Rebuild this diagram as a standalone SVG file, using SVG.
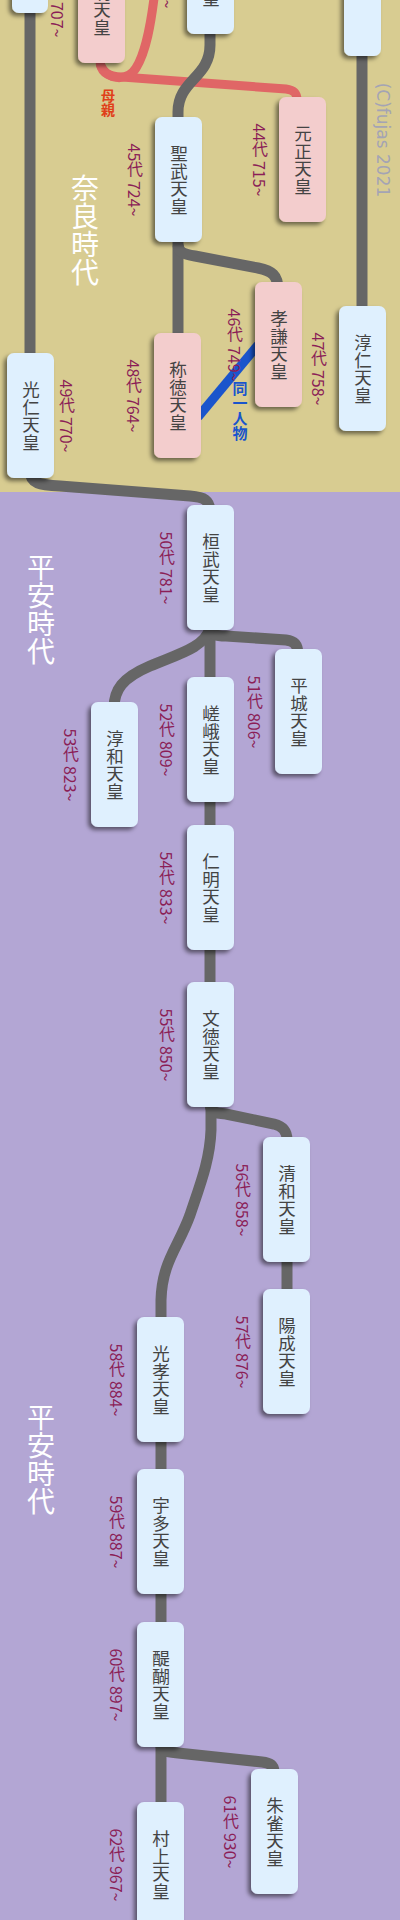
<svg xmlns="http://www.w3.org/2000/svg" width="400" height="1920" viewBox="0 0 400 1920">
<defs>
<filter id="sh" x="-30%" y="-10%" width="160%" height="120%">
<feDropShadow dx="-3" dy="3" stdDeviation="2" flood-color="#000" flood-opacity="0.5"/>
</filter>
</defs>
<style>
.n rect{filter:url(#sh)}
.b{fill:#dff0fe}
.p{fill:#f3cdcd}
.t{font-family:"Noto Sans CJK JP",sans-serif;font-size:17.5px;fill:#444;writing-mode:vertical-rl;text-anchor:middle}
.l{font-family:"Noto Sans CJK JP",sans-serif;font-size:16px;fill:#8b1e57;writing-mode:vertical-rl;text-anchor:middle}
.era{font-family:"Noto Sans CJK JP",sans-serif;font-size:28px;fill:#fff;writing-mode:vertical-rl;text-anchor:middle}
.c path{fill:none;stroke:#666;stroke-width:11}
.r path{fill:none;stroke:#e06666;stroke-width:9}
</style>
<rect x="0" y="0" width="400" height="492" fill="#d8cc91"/>
<rect x="0" y="492" width="400" height="1428" fill="#b3a6d4"/>
<text class="era" x="85" y="230">奈良時代</text>
<text class="era" x="41" y="609">平安時代</text>
<text class="era" x="41" y="1459">平安時代</text>
<text transform="translate(383,140) rotate(90)" font-family="DejaVu Sans,sans-serif" font-size="17" fill="#a4a4b4" text-anchor="middle" dominant-baseline="central">(C)fujas 2021</text>
<g id="mother" class="r">
<path d="M100,60 C100,72 108,77 122,77 L286,89 C294,90 297,93 297,100"/>
<path d="M155,-10 C151,25 146,52 136,68 C128,81 108,82 100,64"/>
</g>
<g id="connectors" class="c">
<path d="M30,-10 L30,360"/>
<path d="M30,470 C30,484 40,485 60,486 L190,496 C204,497 210,500 210,512"/>
<path d="M210,20 L210,45 C210,78 178,80 178,112 L178,125"/>
<path d="M178,240 L178,340"/>
<path d="M178,245 C179,253 184,254 195,256 L258,268 C272,271 278,275 278,290"/>
<path d="M362,50 L362,310"/>
<path d="M210,625 L210,680"/>
<path d="M210,628 C211,635 216,636 226,636 L286,640 C294,641 298,644 298,655"/>
<path d="M210,628 C205,648 175,655 150,666 C122,678 114,690 114,708"/>
<path d="M210,800 L210,830"/>
<path d="M210,948 L210,985"/>
<path d="M210,1104 C211,1112 214,1113 226,1114 L274,1124 C282,1126 287,1130 287,1140"/>
<path d="M211,1104 L211,1130 C210,1160 200,1185 190,1215 C178,1248 162,1262 161,1300 L161,1320"/>
<path d="M287,1260 L287,1292"/>
<path d="M161,1440 L161,1472"/>
<path d="M161,1592 L161,1625"/>
<path d="M161,1744 L161,1805"/>
<path d="M161,1746 C162,1752 167,1752 178,1753 L262,1762 C270,1763 274,1765 274,1772"/>
</g>
<line id="same" x1="258" y1="345" x2="198" y2="417" stroke="#1a55cc" stroke-width="9"/>
<text font-family="Noto Sans CJK JP,sans-serif" font-size="15" font-weight="bold" fill="#1a55cc" style="writing-mode:vertical-rl" text-anchor="middle" x="240" y="411">同一人物</text>
<text font-family="Noto Sans CJK JP,sans-serif" font-size="14" font-weight="bold" fill="#e0401a" style="writing-mode:vertical-rl" text-anchor="middle" x="108" y="103">母親</text>
<g id="n-tl" class="n"><rect class="b" x="12" y="-100" width="36" height="113" rx="7"/></g>
<g id="n-tr" class="n"><rect class="b" x="344" y="-100" width="37" height="156" rx="7"/></g>
<g id="n42" class="n"><rect class="b" x="187" y="-91" width="47" height="125" rx="7"/><text class="t" x="211" y="-28">文武天皇</text><text class="l" x="168" y="-28">42代 697~</text></g>
<g id="n43" class="n"><rect class="p" x="78" y="-62" width="47" height="125" rx="7"/><text class="t" x="102" y="1">元明天皇</text><text class="l" x="58" y="1">43代 707~</text></g>
<g id="n44" class="n"><rect class="p" x="279" y="97" width="47" height="125" rx="7"/><text class="t" x="303" y="160">元正天皇</text><text class="l" x="260" y="160">44代 715~</text></g>
<g id="n45" class="n"><rect class="b" x="155" y="117" width="47" height="125" rx="7"/><text class="t" x="179" y="180">聖武天皇</text><text class="l" x="135" y="180">45代 724~</text></g>
<g id="n46" class="n"><rect class="p" x="255" y="282" width="47" height="125" rx="7"/><text class="t" x="279" y="345">孝謙天皇</text><text class="l" x="235" y="345">46代 749~</text></g>
<g id="n47" class="n"><rect class="b" x="339" y="306" width="47" height="125" rx="7"/><text class="t" x="363" y="369">淳仁天皇</text><text class="l" x="319" y="369">47代 758~</text></g>
<g id="n48" class="n"><rect class="p" x="154" y="333" width="47" height="125" rx="7"/><text class="t" x="178" y="396">称徳天皇</text><text class="l" x="134" y="396">48代 764~</text></g>
<g id="n49" class="n"><rect class="b" x="7" y="353" width="47" height="125" rx="7"/><text class="t" x="31" y="416">光仁天皇</text><text class="l" x="67" y="416">49代 770~</text></g>
<g id="n50" class="n"><rect class="b" x="187" y="505" width="47" height="125" rx="7"/><text class="t" x="211" y="568">桓武天皇</text><text class="l" x="167" y="568">50代 781~</text></g>
<g id="n51" class="n"><rect class="b" x="275" y="649" width="47" height="125" rx="7"/><text class="t" x="299" y="712">平城天皇</text><text class="l" x="255" y="712">51代 806~</text></g>
<g id="n52" class="n"><rect class="b" x="187" y="677" width="47" height="125" rx="7"/><text class="t" x="211" y="740">嵯峨天皇</text><text class="l" x="167" y="740">52代 809~</text></g>
<g id="n53" class="n"><rect class="b" x="91" y="702" width="47" height="125" rx="7"/><text class="t" x="115" y="765">淳和天皇</text><text class="l" x="71" y="765">53代 823~</text></g>
<g id="n54" class="n"><rect class="b" x="187" y="825" width="47" height="125" rx="7"/><text class="t" x="211" y="888">仁明天皇</text><text class="l" x="167" y="888">54代 833~</text></g>
<g id="n55" class="n"><rect class="b" x="187" y="982" width="47" height="125" rx="7"/><text class="t" x="211" y="1045">文徳天皇</text><text class="l" x="167" y="1045">55代 850~</text></g>
<g id="n56" class="n"><rect class="b" x="263" y="1137" width="47" height="125" rx="7"/><text class="t" x="287" y="1200">清和天皇</text><text class="l" x="243" y="1200">56代 858~</text></g>
<g id="n57" class="n"><rect class="b" x="263" y="1289" width="47" height="125" rx="7"/><text class="t" x="287" y="1352">陽成天皇</text><text class="l" x="243" y="1352">57代 876~</text></g>
<g id="n58" class="n"><rect class="b" x="137" y="1317" width="47" height="125" rx="7"/><text class="t" x="161" y="1380">光孝天皇</text><text class="l" x="117" y="1380">58代 884~</text></g>
<g id="n59" class="n"><rect class="b" x="137" y="1469" width="47" height="125" rx="7"/><text class="t" x="161" y="1532">宇多天皇</text><text class="l" x="117" y="1532">59代 887~</text></g>
<g id="n60" class="n"><rect class="b" x="137" y="1622" width="47" height="125" rx="7"/><text class="t" x="161" y="1685">醍醐天皇</text><text class="l" x="117" y="1685">60代 897~</text></g>
<g id="n61" class="n"><rect class="b" x="251" y="1769" width="47" height="125" rx="7"/><text class="t" x="275" y="1832">朱雀天皇</text><text class="l" x="231" y="1832">61代 930~</text></g>
<g id="n62" class="n"><rect class="b" x="137" y="1802" width="47" height="125" rx="7"/><text class="t" x="161" y="1865">村上天皇</text><text class="l" x="117" y="1865">62代 967~</text></g>
</svg>
